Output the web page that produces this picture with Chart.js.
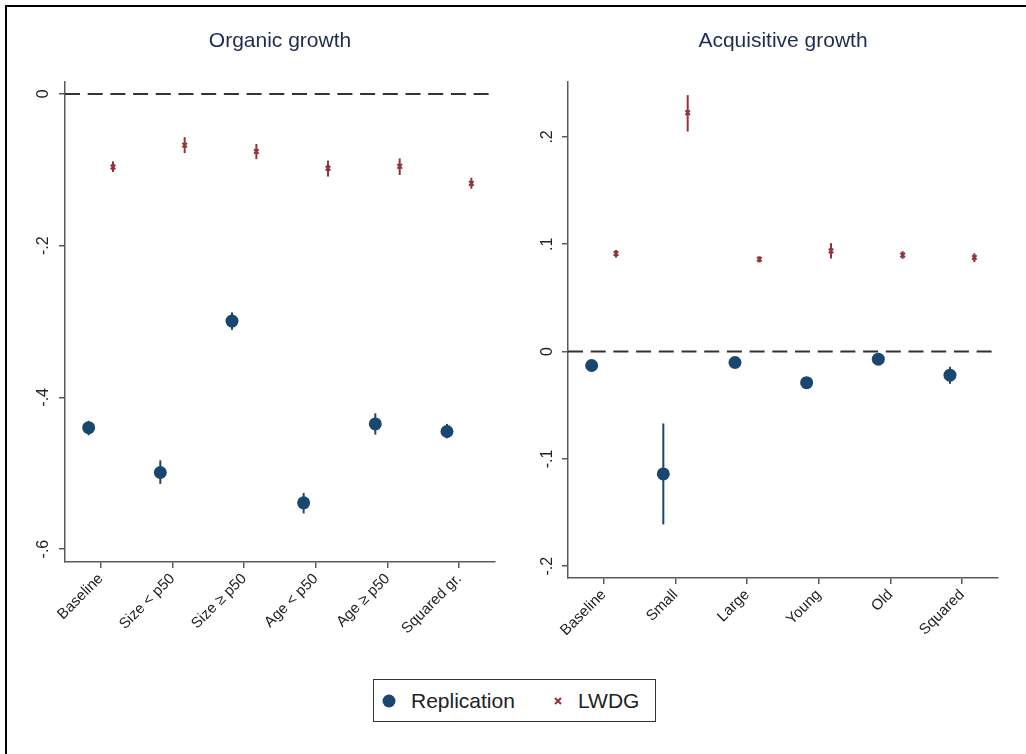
<!DOCTYPE html>
<html>
<head>
<meta charset="utf-8">
<script src="https://cdn.jsdelivr.net/npm/chart.js@4/dist/chart.umd.min.js"></script>
<style>
  html, body { margin: 0; padding: 0; background: #fff; }
  #page { position: relative; width: 1026px; height: 754px; overflow: hidden; background: #fff;
          font-family: "Liberation Sans", Arial, sans-serif; }
  .frame-top { position: absolute; left: 5px; top: 5px; width: 1021px; height: 2px; background: #000; }
  .frame-left { position: absolute; left: 5px; top: 5px; width: 2px; height: 749px; background: #000; }
  canvas { position: absolute; top: 0; }
  #legend { position: absolute; left: 373px; top: 679px; width: 281px; height: 41px;
            border: 1px solid #333; background: #fff; }
  #legend .item { position: absolute; top: 0; height: 41px; display: flex; align-items: center;
                  font-size: 21px; color: #222; }
</style>
</head>
<body>
<div id="page">
  <div class="frame-top"></div>
  <div class="frame-left"></div>
  <canvas id="organic" width="510" height="680" style="left:0px;width:510px;height:680px"></canvas>
  <canvas id="acquisitive" width="516" height="680" style="left:510px;width:516px;height:680px"></canvas>
  <div id="legend"></div>
</div>
<script>
// Series labels
const seriesNames = ['Replication', 'LWDG'];

// Organic growth panel
const organicCats = ['Baseline', 'Size < p50', 'Size \u2265 p50', 'Age < p50', 'Age \u2265 p50', 'Squared gr.'];
const organicRep   = [-0.440, -0.499, -0.2995, -0.539, -0.435, -0.445];
const organicRepLo = [-0.450, -0.514, -0.311, -0.553, -0.449, -0.454];
const organicRepHi = [-0.431, -0.483, -0.288, -0.526, -0.421, -0.435];
const organicLwdg   = [-0.0964, -0.0675, -0.076, -0.098, -0.0955, -0.118];
const organicLwdgLo = [-0.103, -0.078, -0.086, -0.109, -0.107, -0.125];
const organicLwdgHi = [-0.089, -0.057, -0.066, -0.088, -0.085, -0.1105];
const organicYTicks = [0, -0.2, -0.4, -0.6];
const organicYLabels = ['0', '-.2', '-.4', '-.6'];

// Acquisitive growth panel
const acqCats = ['Baseline', 'Small', 'Large', 'Young', 'Old', 'Squared'];
const acqRep   = [-0.013, -0.114, -0.0102, -0.029, -0.0071, -0.022];
const acqRepLo = [-0.016, -0.161, -0.013, -0.034, -0.010, -0.030];
const acqRepHi = [-0.010, -0.067, -0.007, -0.024, -0.004, -0.0142];
const acqLwdg   = [0.0913, 0.2226, 0.086, 0.0938, 0.090, 0.0876];
const acqLwdgLo = [0.0876, 0.205, 0.083, 0.0867, 0.0864, 0.0833];
const acqLwdgHi = [0.0947, 0.239, 0.0888, 0.101, 0.0935, 0.0916];
const acqYTicks = [0.2, 0.1, 0, -0.1, -0.2];
const acqYLabels = ['.2', '.1', '0', '-.1', '-.2'];

const REP_COLOR = '#1a476f';
const LWDG_COLOR = '#90353b';
const AXIS_COLOR = '#5a5a5a';
const TEXT_COLOR = '#222222';
const FONT = '"Liberation Sans", Arial, sans-serif';
const SHIFT = 0.17; // horizontal offset of each series from its category tick

// Reference line at zero plus confidence-interval whiskers
const intervalPlugin = {
  id: 'intervals',
  beforeDatasetsDraw(chart, args, opts) {
    const { ctx, chartArea } = chart;
    const x = chart.scales.x, y = chart.scales.y;
    ctx.save();
    // dashed zero line
    const y0 = y.getPixelForValue(0);
    ctx.strokeStyle = '#333333';
    ctx.lineWidth = 2;
    ctx.setLineDash([15, 7.7]);
    ctx.beginPath();
    ctx.moveTo(chartArea.left, y0);
    ctx.lineTo(chartArea.right - 4, y0);
    ctx.stroke();
    ctx.setLineDash([]);
    // whiskers
    opts.bars.forEach(b => {
      ctx.strokeStyle = b.color;
      ctx.lineWidth = 2;
      b.lo.forEach((lo, i) => {
        const px = x.getPixelForValue(i + b.shift);
        ctx.beginPath();
        ctx.moveTo(px, y.getPixelForValue(lo));
        ctx.lineTo(px, y.getPixelForValue(b.hi[i]));
        ctx.stroke();
      });
    });
    ctx.restore();
  },
  afterDraw(chart, args, opts) {
    // vertical (rotated) y tick labels
    const { ctx, chartArea } = chart;
    const y = chart.scales.y;
    ctx.save();
    ctx.fillStyle = TEXT_COLOR;
    ctx.font = '16px ' + FONT;
    ctx.textAlign = 'center';
    ctx.textBaseline = 'middle';
    opts.yTicks.forEach((v, i) => {
      const py = y.getPixelForValue(v);
      ctx.save();
      ctx.translate(chartArea.left - opts.labelGap, py);
      ctx.rotate(-Math.PI / 2);
      ctx.fillText(opts.yLabels[i], 0, 0);
      ctx.restore();
    });
    ctx.restore();
  }
};

function makePanel(canvasId, cfg) {
  const repPts = cfg.rep.map((v, i) => ({ x: i - SHIFT, y: v }));
  const lwdgPts = cfg.lwdg.map((v, i) => ({ x: i + SHIFT, y: v }));
  return new Chart(document.getElementById(canvasId), {
    type: 'scatter',
    data: {
      datasets: [
        { label: seriesNames[0], data: repPts, pointStyle: 'circle', pointRadius: 6.5, pointHoverRadius: 6.5,
          backgroundColor: REP_COLOR, borderColor: REP_COLOR, borderWidth: 0 },
        { label: seriesNames[1], data: lwdgPts, pointStyle: 'crossRot', pointRadius: 3.2, pointHoverRadius: 3.2,
          backgroundColor: LWDG_COLOR, borderColor: LWDG_COLOR, borderWidth: 2 }
      ]
    },
    options: {
      responsive: false,
      animation: false,
      events: [],
      layout: { padding: { left: 0, right: cfg.padRight, top: 0, bottom: 0 } },
      plugins: {
        legend: { display: false },
        tooltip: { enabled: false },
        title: {
          display: true, text: cfg.title, fullSize: false, color: '#1e2b52',
          font: { family: FONT, size: 21, weight: 'normal', lineHeight: 1.2 },
          padding: { top: 29, bottom: cfg.titleBottom }
        },
        intervals: {
          yTicks: cfg.yTicks, yLabels: cfg.yLabels, labelGap: cfg.labelGap,
          bars: [
            { lo: cfg.repLo, hi: cfg.repHi, shift: -SHIFT, color: REP_COLOR },
            { lo: cfg.lwdgLo, hi: cfg.lwdgHi, shift: SHIFT, color: LWDG_COLOR }
          ]
        }
      },
      scales: {
        x: {
          type: 'linear', min: -0.5, max: 5.5,
          afterBuildTicks: s => { s.ticks = cfg.cats.map((_, i) => ({ value: i })); },
          afterFit: s => { s.height = cfg.xHeight; },
          ticks: {
            callback: v => cfg.cats[v], minRotation: 45, maxRotation: 45, autoSkip: false,
            color: TEXT_COLOR, font: { family: FONT, size: 15 }, padding: 2
          },
          grid: { drawOnChartArea: false, drawTicks: true, tickLength: 6, color: AXIS_COLOR, lineWidth: 1.5 },
          border: { display: true, color: AXIS_COLOR, width: 1.5 }
        },
        y: {
          type: 'linear', min: cfg.yMin, max: cfg.yMax,
          afterBuildTicks: s => { s.ticks = cfg.yTicks.map(v => ({ value: v })); },
          afterFit: s => { s.width = cfg.yWidth; },
          ticks: { display: false },
          grid: { drawOnChartArea: false, drawTicks: true, tickLength: 6, color: AXIS_COLOR, lineWidth: 1.5 },
          border: { display: true, color: AXIS_COLOR, width: 1.5 }
        }
      }
    },
    plugins: [intervalPlugin]
  });
}

makePanel('organic', {
  title: 'Organic growth', cats: organicCats,
  rep: organicRep, repLo: organicRepLo, repHi: organicRepHi,
  lwdg: organicLwdg, lwdgLo: organicLwdgLo, lwdgHi: organicLwdgHi,
  yTicks: organicYTicks, yLabels: organicYLabels,
  yMin: -0.617, yMax: 0.0154,
  yWidth: 65, padRight: 15, xHeight: 680 - 562, titleBottom: 28, labelGap: 21
});

makePanel('acquisitive', {
  title: 'Acquisitive growth', cats: acqCats,
  rep: acqRep, repLo: acqRepLo, repHi: acqRepHi,
  lwdg: acqLwdg, lwdgLo: acqLwdgLo, lwdgHi: acqLwdgHi,
  yTicks: acqYTicks, yLabels: acqYLabels,
  yMin: -0.211, yMax: 0.251,
  yWidth: 58, padRight: 28, xHeight: 680 - 578, titleBottom: 28, labelGap: 20
});

// Legend built from the series names
const legend = document.getElementById('legend');
const markers = [
  '<svg width="14" height="14" viewBox="0 0 14 14"><circle cx="7" cy="7" r="6.5" fill="' + REP_COLOR + '"/></svg>',
  '<svg width="8" height="8" viewBox="0 0 8 8"><path d="M1 1 L7 7 M7 1 L1 7" stroke="' + LWDG_COLOR + '" stroke-width="2"/></svg>'
];
const itemLeft = [8, 180];
const gaps = [15, 16];
seriesNames.forEach((name, i) => {
  const div = document.createElement('div');
  div.className = 'item';
  div.style.left = itemLeft[i] + 'px';
  div.innerHTML = markers[i].replace('<svg', '<svg style="margin-right:' + gaps[i] + 'px"') + '<span>' + name + '</span>';
  legend.appendChild(div);
});
</script>
</body>
</html>
